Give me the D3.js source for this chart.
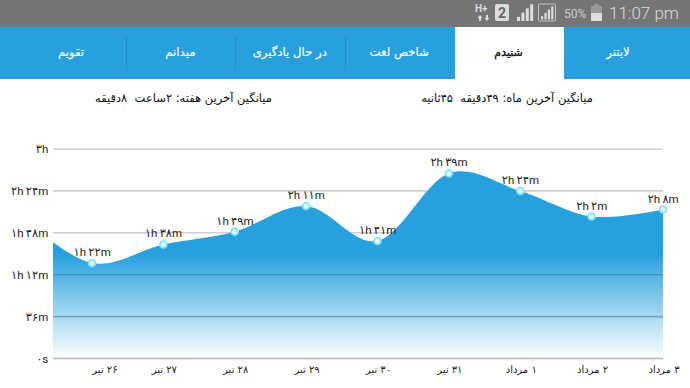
<!DOCTYPE html>
<html><head><meta charset="utf-8">
<script src="https://cdn.jsdelivr.net/npm/d3@7/dist/d3.min.js"></script>
<style>html,body{margin:0;padding:0;background:#fff}svg{display:block}text{white-space:pre}</style>
</head><body><svg id="c" width="690" height="388"></svg>
<script>
const tabs = ["لایتنر","شنیدم","شاخص لغت","در حال یادگیری","میدانم","تقویم"];
const activeTab = "شنیدم";
const weekAvg = "میانگین آخرین هفته: ۲ساعت  ۸دقیقه";
const monthAvg = "میانگین آخرین ماه: ۴۹دقیقه  ۴۵ثانیه";
const days = ["۲۵ تیر","۲۶ تیر","۲۷ تیر","۲۸ تیر","۲۹ تیر","۳۰ تیر","۳۱ تیر","۱ مرداد","۲ مرداد","۳ مرداد"];
const minutes = [122,82,98,109,131,101,159,144,122,128];
const pointLabels = [null,"۱h ۲۲m","۱h ۳۸m","۱h ۴۹m","۲h ۱۱m","۱h ۴۱m","۲h ۳۹m","۲h ۲۴m","۲h ۲m","۲h ۸m"];
const tickValues = [0,36,72,108,144,180];
const tickLabels = ["۰s","۳۶m","۱h ۱۲m","۱h ۴۸m","۲h ۲۴m","۳h"];
const showThroughTicks = [36,72];
const signalBars = [1,2,3,4];
const font = "'DejaVu Sans',sans-serif";
const mixed = "Roboto,'DejaVu Sans',sans-serif";

const svg = d3.select("#c");
const x = d3.scalePoint().domain(days).range([20.6,663]);
const y = d3.scaleLinear().domain([0,180]).range([358.5,149]);

// status + tab bars
svg.append("rect").attr("width",690).attr("height",27).attr("fill","#757575");
svg.append("rect").attr("y",27).attr("width",690).attr("height",51).attr("fill","#27a0dd");
svg.append("rect").attr("y",77).attr("width",690).attr("height",2).attr("fill","#2b9bd8");
const tabX = d3.scaleBand().domain(tabs).range([672.7,16.3]);
svg.append("rect").attr("x",455).attr("y",27).attr("width",109).attr("height",52).attr("fill","#fff");
tabs.forEach(t=>{
  const on = t===activeTab;
  svg.append("text").attr("x",tabX(t)+tabX.bandwidth()/2).attr("y",56).attr("text-anchor","middle").attr("direction","rtl")
    .attr("font-family",font).attr("font-size",on?11:11.7)
    .attr("fill",on?"#111":"#fff").attr("stroke",on?"#111":"#fff").attr("stroke-width",on?0.35:0.15).text(t);
});
[126,235,345].forEach(s=>svg.append("rect").attr("x",s).attr("y",36).attr("width",1).attr("height",34).attr("fill","#1f8fcb"));

// status icons
const st = svg.append("g").attr("fill","#ddd").attr("font-family","Roboto,sans-serif");
st.append("text").attr("x",475).attr("y",12).attr("font-size",10).attr("font-weight","bold").text("H+");
st.append("path").attr("d","M480 15l2.5 3h-1.5v3h-2v-3h-1.5zM487 21l-2.5-3h1.5v-3h2v3h1.5z");
st.append("rect").attr("x",495).attr("y",4).attr("width",14).attr("height",17).attr("rx",2);
st.append("text").attr("x",502).attr("y",18).attr("text-anchor","middle").attr("font-size",14).attr("font-weight","bold").attr("fill","#666").text("2");
signalBars.forEach(b=>{
  st.append("rect").attr("x",517+(b-1)*4.4).attr("y",21-b*4.2).attr("width",3).attr("height",b*4.2);
  st.append("rect").attr("x",541+(b-1)*3.4).attr("y",19.5-b*3.3).attr("width",2.2).attr("height",b*3.3);
});
st.append("rect").attr("x",538.5).attr("y",4).attr("width",17).attr("height",17).attr("rx",1).attr("fill","none").attr("stroke","#c4c4c4");
st.append("text").attr("x",564).attr("y",18).attr("font-size",12).attr("fill","#ccc").text("50%");
st.append("rect").attr("x",591).attr("y",6).attr("width",11).attr("height",15).attr("fill","#999");
st.append("rect").attr("x",591).attr("y",13).attr("width",11).attr("height",8).attr("fill","#ddd");
st.append("rect").attr("x",594).attr("y",4).attr("width",5).attr("height",2).attr("fill","#999");
st.append("text").attr("x",609).attr("y",19).attr("font-size",17).attr("font-weight",300).attr("fill","#ddd").text("11:07 pm");

// averages
[[weekAvg,183.5],[monthAvg,507]].forEach(([t,c])=>
  svg.append("text").attr("x",c).attr("y",102).attr("text-anchor","middle").attr("direction","rtl").attr("font-family",font).attr("font-size",11.5).attr("fill","#111").text(t));

// grid
svg.append("g").selectAll("line").data(tickValues).join("line")
  .attr("x1",53).attr("x2",663).attr("y1",d=>y(d)).attr("y2",d=>y(d))
  .attr("stroke",d=>d===0?"#b5b5b5":"#cfcfcf").attr("stroke-width",1.6);
svg.append("g").selectAll("text").data(tickValues).join("text")
  .attr("x",48).attr("y",d=>y(d)+4).attr("text-anchor","end").attr("font-family",mixed).attr("font-size",11.5).attr("letter-spacing",-0.3).attr("fill","#222")
  .text((d,i)=>tickLabels[i]);

// area
const defs = svg.append("defs");
const g = defs.append("linearGradient").attr("id","fade").attr("gradientUnits","userSpaceOnUse").attr("x1",0).attr("x2",0).attr("y1",y(180)).attr("y2",y(0));
g.append("stop").attr("offset",0.5).attr("stop-color","#27a0dd").attr("stop-opacity",1);
g.append("stop").attr("offset",1).attr("stop-color","#27a0dd").attr("stop-opacity",0);
defs.append("clipPath").attr("id","clip").append("rect").attr("x",53).attr("y",120).attr("width",610).attr("height",240);
const area = d3.area().x(d=>x(d.day)).y0(y(0)).y1(d=>y(d.v)).curve(d3.curveCardinal.tension(0));
const data = days.map((day,i)=>({day,v:minutes[i],label:pointLabels[i]}));
svg.append("path").attr("clip-path","url(#clip)").attr("d",area(data)).attr("fill","url(#fade)");
svg.append("g").selectAll("line").data(showThroughTicks).join("line")
  .attr("x1",53).attr("x2",663).attr("y1",d=>y(d)).attr("y2",d=>y(d))
  .attr("stroke","#1a6a9c").attr("stroke-opacity",0.3).attr("stroke-width",1.2);

// markers + labels
const shown = data.filter(d=>d.label);
svg.append("g").selectAll("circle").data(shown).join("circle")
  .attr("cx",d=>x(d.day)).attr("cy",d=>y(d.v)).attr("r",3.4)
  .attr("fill","#e4f9ff").attr("stroke","#7fe3ff").attr("stroke-width",1.8);
svg.append("g").selectAll("text").data(shown).join("text")
  .attr("x",d=>x(d.day)).attr("y",d=>y(d.v)-7).attr("text-anchor","middle").attr("font-family",mixed).attr("font-size",11.5).attr("letter-spacing",-0.3).attr("fill","#222")
  .text(d=>d.label);
svg.append("g").selectAll("text").data(shown).join("text")
  .attr("x",(d,i)=>x(d.day)+(i===0?13:1)).attr("y",373).attr("text-anchor","middle").attr("direction","rtl").attr("font-family",font).attr("font-size",10).attr("fill","#222")
  .text(d=>d.day);
</script></body></html>
